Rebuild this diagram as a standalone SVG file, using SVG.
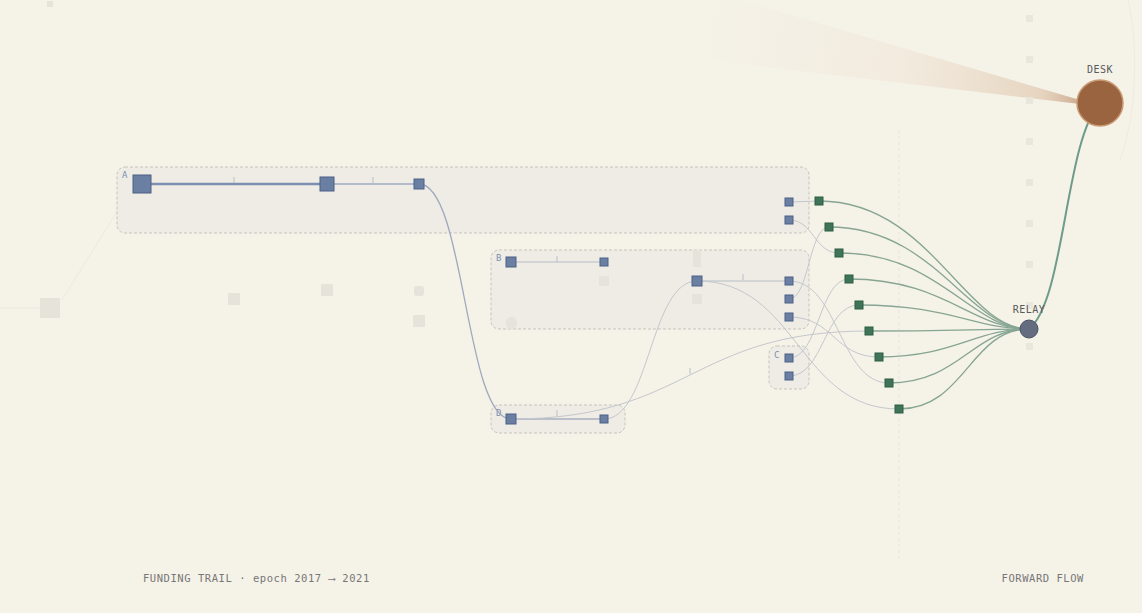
<svg xmlns="http://www.w3.org/2000/svg" width="1142" height="613" viewBox="0 0 1142 613">
<defs>
<linearGradient id="fan" x1="690" y1="40" x2="1080" y2="102" gradientUnits="userSpaceOnUse">
<stop offset="0" stop-color="#efe4d6" stop-opacity="0"/>
<stop offset="0.55" stop-color="#ecdcc9" stop-opacity="0.35"/>
<stop offset="0.9" stop-color="#dcc0a6" stop-opacity="0.6"/>
<stop offset="1" stop-color="#c9a487" stop-opacity="0.9"/>
</linearGradient>
<style>
.grp{fill:#eeece5;stroke:#c6c4bd;stroke-width:1;stroke-dasharray:3 2}
.glbl{font-family:"DejaVu Sans Mono",monospace;font-size:9px;fill:#7d8fb0}
.bn{fill:#6b7fa3;stroke:#4d6187;stroke-width:1}
.gn{fill:#3f7458;stroke:#2f5d45;stroke-width:1}
.ghost{fill:#e6e3db}
.c{fill:none;stroke:#c4c7cc;stroke-width:1}
.cb{fill:none;stroke:#9ea9bd;stroke-width:1.3}
.cg{fill:none;stroke:#86a592;stroke-width:1.3}
.tick{stroke:#b9bfca;stroke-width:1}
.lbl{font-family:"DejaVu Sans Mono",monospace;font-size:10px;fill:#5a5a5a;letter-spacing:0.5px}
.foot{font-family:"DejaVu Sans Mono",monospace;font-size:10.5px;fill:#777;letter-spacing:0.55px}
</style>
</defs>
<rect width="1142" height="613" fill="#f5f2e8"/>
<g id="background">
<path d="M700,0 L740,0 L1080,100 L1080,104 L690,58 Z" fill="url(#fan)"/>
<line x1="899" y1="130" x2="899" y2="560" stroke="#efebe2" stroke-width="2" stroke-dasharray="3 3"/>
<g fill="#e9e6de">
<rect x="1026" y="15" width="7" height="7"/><rect x="1026" y="56" width="7" height="7"/><rect x="1026" y="97" width="7" height="7"/><rect x="1026" y="138" width="7" height="7"/><rect x="1026" y="179" width="7" height="7"/><rect x="1026" y="220" width="7" height="7"/><rect x="1026" y="261" width="7" height="7"/><rect x="1026" y="302" width="7" height="7"/><rect x="1026" y="343" width="7" height="7"/>
</g>
<path d="M1128,0 C1140,50 1135,120 1120,160" fill="none" stroke="#efebe2" stroke-width="1"/>
<line x1="0" y1="308" x2="40" y2="308" stroke="#ebe8e0" stroke-width="1"/>
<line x1="62" y1="300" x2="118" y2="210" stroke="#ece9e0" stroke-width="1"/>
<rect class="ghost" x="40" y="298" width="20" height="20"/>
<rect class="ghost" x="47" y="1" width="6" height="6"/>
<rect class="ghost" x="228" y="293" width="12" height="12"/>
<rect class="ghost" x="321" y="284" width="12" height="12"/>
<rect class="ghost" x="414" y="286" width="10" height="10" rx="3"/>
<rect class="ghost" x="413" y="315" width="12" height="12"/>
</g>
<g id="group-A">
<rect class="grp" x="117" y="167" width="692" height="66" rx="8"/>
<text class="glbl" x="122" y="178">A</text>
</g>
<g id="group-B">
<rect class="grp" x="491" y="250" width="318" height="79" rx="8"/>
<text class="glbl" x="496" y="261">B</text>
<rect class="ghost" x="599" y="276" width="10" height="10"/>
<rect class="ghost" x="693" y="250" width="8" height="17"/>
<rect class="ghost" x="692" y="294" width="10" height="10"/>
<rect class="ghost" x="506" y="317" width="11" height="12" rx="5"/>
</g>
<g id="group-C">
<rect class="grp" x="769" y="346" width="40" height="43" rx="8"/>
<text class="glbl" x="774" y="358">C</text>
</g>
<g id="group-D">
<rect class="grp" x="491" y="405" width="134" height="28" rx="8"/>
<text class="glbl" x="496" y="416">D</text>
</g>
<g id="connectors">
<line x1="142" y1="184" x2="327" y2="184" stroke="#7d8fb0" stroke-width="2.5"/>
<line class="tick" x1="234" y1="177" x2="234" y2="183"/>
<line x1="327" y1="184" x2="419" y2="184" stroke="#a0abc0" stroke-width="1.5"/>
<line class="tick" x1="373" y1="177" x2="373" y2="183"/>
<path class="cb" d="M419,184 C465,184 465,419 511,419"/>
<line x1="511" y1="262" x2="604" y2="262" stroke="#b5bbc6" stroke-width="1.2"/>
<line class="tick" x1="557" y1="256" x2="557" y2="262"/>
<line x1="511" y1="419" x2="604" y2="419" stroke="#a8b1c2" stroke-width="1.5"/>
<path class="c" d="M511,419 C690,419 690,331 869,331"/>
<line class="tick" x1="557" y1="410" x2="557" y2="416"/>
<line class="tick" x1="690" y1="368" x2="690" y2="374"/>
<path class="c" d="M604,419 C650,419 650,281 697,281"/>
<line x1="697" y1="281" x2="789" y2="281" stroke="#b5bbc6" stroke-width="1.2"/>
<line class="tick" x1="743" y1="274" x2="743" y2="280"/>
<path class="c" d="M697,281 C798,281 798,409 899,409"/>
<line class="c" x1="789" y1="202" x2="819" y2="201"/>
<path class="c" d="M789,220 C814,220 814,253 839,253"/>
<path class="c" d="M789,299 C809,299 809,227 829,227"/>
<path class="c" d="M789,281 C839,281 839,383 889,383"/>
<path class="c" d="M789,317 C834,317 834,357 879,357"/>
<path class="c" d="M789,358 C819,358 819,279 849,279"/>
<path class="c" d="M789,376 C824,376 824,305 859,305"/>
<path class="cg" d="M819,201 C930,201 965,329 1029,329"/>
<path class="cg" d="M829,227 C935,227 968,329 1029,329"/>
<path class="cg" d="M839,253 C940,253 970,329 1029,329"/>
<path class="cg" d="M849,279 C945,279 972,329 1029,329"/>
<path class="cg" d="M859,305 C950,305 975,329 1029,329"/>
<path class="cg" d="M869,331 C950,331 980,329 1029,329"/>
<path class="cg" d="M879,357 C955,357 975,329 1029,329"/>
<path class="cg" d="M889,383 C960,383 972,329 1029,329"/>
<path class="cg" d="M899,409 C965,409 970,329 1029,329"/>
<path d="M1029,329 C1065,300 1065,140 1100,103" fill="none" stroke="#6f9c8a" stroke-width="2"/>
</g>
<g id="nodes-A">
<rect class="bn" x="133" y="175" width="18" height="18"/>
<rect class="bn" x="320" y="177" width="14" height="14"/>
<rect class="bn" x="414" y="179" width="10" height="10"/>
<rect class="bn" x="785" y="198" width="8" height="8"/>
<rect class="bn" x="785" y="216" width="8" height="8"/>
</g>
<g id="nodes-B">
<rect class="bn" x="506" y="257" width="10" height="10"/>
<rect class="bn" x="600" y="258" width="8" height="8"/>
<rect class="bn" x="692" y="276" width="10" height="10"/>
<rect class="bn" x="785" y="277" width="8" height="8"/>
<rect class="bn" x="785" y="295" width="8" height="8"/>
<rect class="bn" x="785" y="313" width="8" height="8"/>
</g>
<g id="nodes-C">
<rect class="bn" x="785" y="354" width="8" height="8"/>
<rect class="bn" x="785" y="372" width="8" height="8"/>
</g>
<g id="nodes-D">
<rect class="bn" x="506" y="414" width="10" height="10"/>
<rect class="bn" x="600" y="415" width="8" height="8"/>
</g>
<g id="nodes-green">
<rect class="gn" x="815" y="197" width="8" height="8"/>
<rect class="gn" x="825" y="223" width="8" height="8"/>
<rect class="gn" x="835" y="249" width="8" height="8"/>
<rect class="gn" x="845" y="275" width="8" height="8"/>
<rect class="gn" x="855" y="301" width="8" height="8"/>
<rect class="gn" x="865" y="327" width="8" height="8"/>
<rect class="gn" x="875" y="353" width="8" height="8"/>
<rect class="gn" x="885" y="379" width="8" height="8"/>
<rect class="gn" x="895" y="405" width="8" height="8"/>
</g>
<g id="node-relay">
<circle cx="1029" cy="329" r="9" fill="#646c80" stroke="#4b5265" stroke-width="1"/>
<text class="lbl" x="1029" y="313" text-anchor="middle">RELAY</text>
</g>
<g id="node-desk">
<circle cx="1100" cy="103" r="23" fill="#9a6440" stroke="#c99a72" stroke-width="1.5"/>
<text class="lbl" x="1100" y="73" text-anchor="middle">DESK</text>
</g>
<g id="footer">
<text class="foot" x="143" y="582">FUNDING TRAIL · epoch 2017 ⟶ 2021</text>
<text class="foot" x="1084" y="582" text-anchor="end">FORWARD FLOW</text>
</g>
</svg>
